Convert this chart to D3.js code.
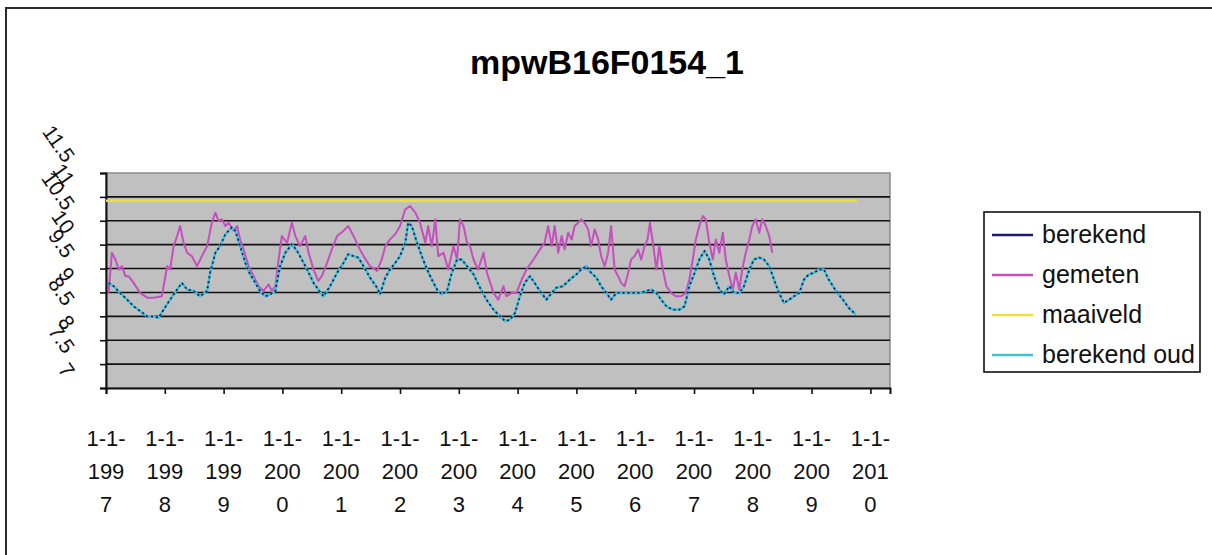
<!DOCTYPE html>
<html>
<head>
<meta charset="utf-8">
<script src="https://cdn.jsdelivr.net/npm/d3@7"></script>
<style>
  html, body { margin: 0; padding: 0; background: #ffffff; }
  svg { display: block; font-family: "Liberation Sans", Arial, sans-serif; }
</style>
</head>
<body>
<svg id="chart" width="1212" height="555"></svg>
<script>
// ---------------- DATA ----------------
const chartTitle = "mpwB16F0154_1";
const yTickValues = [7, 7.5, 8, 8.5, 9, 9.5, 10, 10.5, 11, 11.5];
const yTickLabels = ["7", "7.5", "8", "8.5", "9", "9.5", "10", "10.5", "11", "11.5"];
const xTickYears = [1997, 1998, 1999, 2000, 2001, 2002, 2003, 2004, 2005, 2006, 2007, 2008, 2009, 2010];
const xTickLabels = [
  ["1-1-", "199", "7"], ["1-1-", "199", "8"], ["1-1-", "199", "9"], ["1-1-", "200", "0"],
  ["1-1-", "200", "1"], ["1-1-", "200", "2"], ["1-1-", "200", "3"], ["1-1-", "200", "4"],
  ["1-1-", "200", "5"], ["1-1-", "200", "6"], ["1-1-", "200", "7"], ["1-1-", "200", "8"],
  ["1-1-", "200", "9"], ["1-1-", "201", "0"]
];
const seriesNames = ["berekend", "gemeten", "maaiveld", "berekend oud"];

// time in decimal years, value in m
const gemeten = [
  [1997.045, 8.99], [1997.10, 9.83], [1997.16, 9.69], [1997.215, 9.48], [1997.27, 9.55], [1997.33, 9.34],
  [1997.385, 9.34], [1997.47, 9.20], [1997.58, 8.99], [1997.70, 8.89], [1997.81, 8.89], [1997.95, 8.92],
  [1997.98, 9.13], [1998.04, 9.55], [1998.09, 9.48], [1998.15, 9.97], [1998.21, 10.18], [1998.26, 10.39],
  [1998.32, 10.04], [1998.38, 9.83], [1998.46, 9.76], [1998.55, 9.55], [1998.63, 9.76], [1998.72, 9.97],
  [1998.80, 10.46], [1998.86, 10.67], [1998.915, 10.50], [1998.97, 10.53], [1999.03, 10.39], [1999.085, 10.46],
  [1999.17, 10.29], [1999.23, 10.39], [1999.28, 10.11], [1999.34, 9.90], [1999.425, 9.55], [1999.51, 9.34],
  [1999.595, 9.13], [1999.68, 9.03], [1999.765, 9.17], [1999.82, 9.03], [1999.88, 9.13], [1999.935, 9.69],
  [1999.99, 10.18], [2000.08, 10.04], [2000.16, 10.46], [2000.22, 10.18], [2000.30, 9.97], [2000.39, 10.18],
  [2000.445, 9.83], [2000.53, 9.48], [2000.61, 9.24], [2000.67, 9.34], [2000.76, 9.62], [2000.84, 9.90],
  [2000.93, 10.18], [2001.04, 10.29], [2001.12, 10.39], [2001.21, 10.18], [2001.29, 9.97], [2001.38, 9.76],
  [2001.49, 9.55], [2001.61, 9.45], [2001.69, 9.69], [2001.75, 9.97], [2001.83, 10.11], [2001.92, 10.22],
  [2002.00, 10.39], [2002.09, 10.74], [2002.17, 10.81], [2002.26, 10.67], [2002.34, 10.46], [2002.43, 10.04],
  [2002.48, 10.39], [2002.54, 9.97], [2002.60, 10.53], [2002.65, 9.76], [2002.74, 9.83], [2002.82, 9.48],
  [2002.91, 9.97], [2002.97, 9.69], [2003.02, 10.53], [2003.08, 10.39], [2003.14, 10.04], [2003.19, 9.97],
  [2003.25, 9.69], [2003.33, 9.48], [2003.42, 9.83], [2003.48, 9.41], [2003.59, 8.99], [2003.67, 8.85],
  [2003.76, 9.13], [2003.81, 8.92], [2003.90, 8.99], [2003.98, 8.99], [2004.07, 9.27], [2004.15, 9.48],
  [2004.27, 9.69], [2004.38, 9.90], [2004.46, 10.04], [2004.52, 10.39], [2004.58, 9.97], [2004.63, 10.39],
  [2004.69, 9.83], [2004.75, 10.18], [2004.80, 9.90], [2004.86, 10.25], [2004.92, 10.11], [2004.97, 10.39],
  [2005.03, 10.46], [2005.08, 10.53], [2005.14, 10.46], [2005.20, 10.32], [2005.25, 9.97], [2005.31, 10.32],
  [2005.37, 10.11], [2005.42, 9.76], [2005.48, 9.55], [2005.54, 9.83], [2005.59, 10.39], [2005.65, 9.48],
  [2005.71, 9.34], [2005.76, 9.20], [2005.82, 9.13], [2005.88, 9.41], [2005.93, 9.69], [2005.99, 9.76],
  [2006.05, 9.90], [2006.10, 9.69], [2006.16, 9.97], [2006.21, 10.11], [2006.25, 10.46], [2006.30, 10.04],
  [2006.36, 9.48], [2006.41, 9.97], [2006.47, 9.48], [2006.53, 9.13], [2006.61, 8.99], [2006.69, 8.92],
  [2006.78, 8.92], [2006.86, 8.99], [2006.92, 9.27], [2006.98, 9.69], [2007.03, 10.11], [2007.09, 10.39],
  [2007.15, 10.60], [2007.20, 10.53], [2007.26, 10.04], [2007.32, 9.69], [2007.37, 10.11], [2007.43, 9.83],
  [2007.49, 10.25], [2007.54, 9.69], [2007.60, 9.34], [2007.66, 9.06], [2007.71, 9.41], [2007.77, 9.06],
  [2007.82, 9.48], [2007.88, 9.83], [2007.94, 10.11], [2007.99, 10.39], [2008.05, 10.53], [2008.11, 10.25],
  [2008.16, 10.53], [2008.22, 10.39], [2008.28, 10.18], [2008.33, 9.83]
];

const berekendOud = [
  [1997.045, 9.20], [1997.13, 9.13], [1997.24, 8.99], [1997.36, 8.85], [1997.47, 8.71], [1997.58, 8.61],
  [1997.70, 8.50], [1997.81, 8.50], [1997.895, 8.47], [1997.98, 8.64], [1998.09, 8.85], [1998.21, 9.06],
  [1998.29, 9.20], [1998.38, 9.06], [1998.49, 9.03], [1998.60, 8.92], [1998.72, 9.03], [1998.77, 9.41],
  [1998.86, 9.83], [1998.94, 9.97], [1999.03, 10.22], [1999.085, 10.29], [1999.14, 10.36], [1999.20, 10.29],
  [1999.28, 9.97], [1999.37, 9.62], [1999.45, 9.38], [1999.54, 9.20], [1999.62, 9.03], [1999.71, 8.92],
  [1999.79, 8.96], [1999.88, 9.03], [1999.96, 9.55], [2000.05, 9.83], [2000.16, 10.01], [2000.25, 9.87],
  [2000.33, 9.69], [2000.42, 9.48], [2000.53, 9.20], [2000.61, 9.06], [2000.70, 8.92], [2000.81, 9.13],
  [2000.93, 9.41], [2001.04, 9.62], [2001.12, 9.80], [2001.21, 9.76], [2001.29, 9.73], [2001.38, 9.55],
  [2001.49, 9.31], [2001.61, 9.10], [2001.66, 8.96], [2001.75, 9.31], [2001.83, 9.48], [2001.92, 9.62],
  [2002.00, 9.76], [2002.09, 10.04], [2002.14, 10.46], [2002.20, 10.39], [2002.29, 10.04], [2002.37, 9.76],
  [2002.46, 9.48], [2002.54, 9.27], [2002.63, 9.06], [2002.71, 8.96], [2002.80, 9.03], [2002.88, 9.41],
  [2002.97, 9.69], [2003.05, 9.69], [2003.14, 9.55], [2003.25, 9.38], [2003.36, 9.10], [2003.47, 8.85],
  [2003.59, 8.64], [2003.70, 8.50], [2003.79, 8.40], [2003.87, 8.43], [2003.955, 8.57], [2004.04, 8.92],
  [2004.12, 9.20], [2004.21, 9.34], [2004.29, 9.20], [2004.38, 9.03], [2004.49, 8.85], [2004.58, 8.99],
  [2004.66, 9.10], [2004.77, 9.13], [2004.89, 9.27], [2005.00, 9.38], [2005.08, 9.48], [2005.17, 9.55],
  [2005.25, 9.41], [2005.34, 9.31], [2005.42, 9.13], [2005.51, 8.99], [2005.59, 8.85], [2005.68, 8.99],
  [2005.79, 8.99], [2005.90, 8.99], [2005.99, 8.99], [2006.07, 8.99], [2006.19, 9.03], [2006.27, 9.06],
  [2006.36, 8.99], [2006.44, 8.85], [2006.53, 8.71], [2006.64, 8.64], [2006.75, 8.64], [2006.84, 8.71],
  [2006.92, 9.13], [2007.01, 9.41], [2007.09, 9.69], [2007.18, 9.87], [2007.26, 9.69], [2007.34, 9.34],
  [2007.43, 9.06], [2007.51, 8.96], [2007.60, 9.13], [2007.68, 8.99], [2007.77, 8.99], [2007.85, 9.13],
  [2007.94, 9.48], [2008.02, 9.69], [2008.11, 9.73], [2008.19, 9.69], [2008.28, 9.55], [2008.36, 9.27],
  [2008.445, 8.99], [2008.53, 8.78], [2008.62, 8.85], [2008.70, 8.92], [2008.79, 8.99], [2008.87, 9.27],
  [2008.955, 9.38], [2009.04, 9.41], [2009.12, 9.48], [2009.21, 9.48], [2009.29, 9.27], [2009.38, 9.10],
  [2009.46, 8.96], [2009.55, 8.82], [2009.63, 8.68], [2009.75, 8.54]
];

const berekend = [
  [1997.045, 9.20], [1997.13, 9.13], [1997.24, 8.99], [1997.36, 8.85], [1997.47, 8.71], [1997.58, 8.61],
  [1997.70, 8.50], [1997.81, 8.50], [1997.895, 8.47], [1997.98, 8.64], [1998.09, 8.85], [1998.21, 9.06],
  [1998.29, 9.20], [1998.38, 9.06], [1998.49, 9.03], [1998.60, 8.92], [1998.72, 9.03], [1998.77, 9.41],
  [1998.86, 9.83], [1998.94, 9.97], [1999.03, 10.22], [1999.085, 10.29], [1999.14, 10.36], [1999.20, 10.29],
  [1999.28, 9.97], [1999.37, 9.62], [1999.45, 9.38], [1999.54, 9.20], [1999.62, 9.03], [1999.71, 8.92],
  [1999.79, 8.96], [1999.88, 9.03], [1999.96, 9.55], [2000.05, 9.83], [2000.16, 10.01], [2000.25, 9.87],
  [2000.33, 9.69], [2000.42, 9.48], [2000.53, 9.20], [2000.61, 9.06], [2000.70, 8.92], [2000.81, 9.13],
  [2000.93, 9.41], [2001.04, 9.62], [2001.12, 9.80], [2001.21, 9.76], [2001.29, 9.73], [2001.38, 9.55],
  [2001.49, 9.31], [2001.61, 9.10], [2001.66, 8.96], [2001.75, 9.31], [2001.83, 9.48], [2001.92, 9.62],
  [2002.00, 9.76], [2002.09, 10.04], [2002.14, 10.46], [2002.20, 10.39], [2002.29, 10.04], [2002.37, 9.76],
  [2002.46, 9.48], [2002.54, 9.27], [2002.63, 9.06], [2002.71, 8.96], [2002.80, 9.03], [2002.88, 9.41],
  [2002.97, 9.69], [2003.05, 9.69], [2003.14, 9.55], [2003.25, 9.38], [2003.36, 9.10], [2003.47, 8.85],
  [2003.59, 8.64], [2003.70, 8.50], [2003.79, 8.40], [2003.87, 8.43], [2003.955, 8.57], [2004.04, 8.92],
  [2004.12, 9.20], [2004.21, 9.34], [2004.29, 9.20], [2004.38, 9.03], [2004.49, 8.85], [2004.58, 8.99],
  [2004.66, 9.10], [2004.77, 9.13], [2004.89, 9.27], [2005.00, 9.38], [2005.08, 9.48], [2005.17, 9.55],
  [2005.25, 9.41], [2005.34, 9.31], [2005.42, 9.13], [2005.51, 8.99], [2005.59, 8.85], [2005.68, 8.99],
  [2005.79, 8.99], [2005.90, 8.99], [2005.99, 8.99], [2006.07, 8.99], [2006.19, 9.03], [2006.27, 9.06],
  [2006.36, 8.99], [2006.44, 8.85], [2006.53, 8.71], [2006.64, 8.64], [2006.75, 8.64], [2006.84, 8.71],
  [2006.92, 9.13], [2007.01, 9.41], [2007.09, 9.69], [2007.18, 9.87], [2007.26, 9.69], [2007.34, 9.34],
  [2007.43, 9.06], [2007.51, 8.96], [2007.60, 9.13], [2007.68, 8.99], [2007.77, 8.99], [2007.85, 9.13],
  [2007.94, 9.48], [2008.02, 9.69], [2008.11, 9.73], [2008.19, 9.69], [2008.28, 9.55], [2008.36, 9.27],
  [2008.445, 8.99], [2008.53, 8.78], [2008.62, 8.85], [2008.70, 8.92], [2008.79, 8.99], [2008.87, 9.27],
  [2008.955, 9.38], [2009.04, 9.41], [2009.12, 9.48], [2009.21, 9.48], [2009.29, 9.27], [2009.38, 9.10],
  [2009.46, 8.96], [2009.55, 8.82], [2009.63, 8.68], [2009.75, 8.54]
];

const maaiveld = [[1997.0, 10.92], [2009.77, 10.92]];

const seriesColors = { "berekend": "#1a1a6e", "gemeten": "#c64fbf", "maaiveld": "#ece03a", "berekend oud": "#3ec3cf" };

// ---------------- LAYOUT ----------------
const svg = d3.select("#chart");
const plot = { left: 106, right: 890, top: 173, bottom: 388 };

const x = d3.scaleLinear().domain([1997, 2010.333]).range([plot.left, plot.right]);
const y = d3.scaleLinear().domain([7, 11.5]).range([plot.bottom, plot.top]);

// outer chart border
svg.append("rect").attr("x", 6).attr("y", 8).attr("width", 1300).attr("height", 700)
  .attr("fill", "#ffffff").attr("stroke", "#2b2b2b").attr("stroke-width", 2);

// title
svg.append("text").attr("x", 607).attr("y", 74).attr("text-anchor", "middle")
  .attr("font-size", 34).attr("font-weight", "bold").attr("fill", "#000")
  .text(chartTitle);

// plot background
svg.append("rect").attr("x", plot.left).attr("y", plot.top)
  .attr("width", plot.right - plot.left).attr("height", plot.bottom - plot.top)
  .attr("fill", "#c0c0c0").attr("stroke", "#8a8a8a").attr("stroke-width", 1.5);

// gridlines
svg.append("g").selectAll("line").data(yTickValues.filter(v => v > 7 && v < 11.5)).join("line")
  .attr("x1", plot.left).attr("x2", plot.right)
  .attr("y1", d => y(d)).attr("y2", d => y(d))
  .attr("stroke", "#111").attr("stroke-width", 1.6);

// y axis
const yAxis = d3.axisLeft(y).tickValues(yTickValues).tickSize(6).tickFormat("");
const yg = svg.append("g").attr("transform", `translate(${plot.left},0)`).call(yAxis);
yg.select(".domain").attr("stroke", "#111").attr("stroke-width", 2);
yg.selectAll(".tick line").attr("stroke", "#111").attr("stroke-width", 1.6);

// rotated y labels
svg.append("g").selectAll("text").data(yTickValues).join("text")
  .attr("transform", (d) => `translate(64,${y(d) - 9}) rotate(55)`)
  .attr("text-anchor", "end")
  .attr("font-size", 21).attr("fill", "#111")
  .text((d, i) => yTickLabels[i]);

// x axis
const xAxis = d3.axisBottom(x).tickValues(xTickYears).tickSize(6).tickFormat("");
const xg = svg.append("g").attr("transform", `translate(0,${plot.bottom})`).call(xAxis);
xg.select(".domain").attr("stroke", "#111").attr("stroke-width", 2);
xg.selectAll(".tick line").attr("stroke", "#111").attr("stroke-width", 1.6);

const xl = svg.append("g").selectAll("text").data(xTickYears).join("text")
  .attr("text-anchor", "middle").attr("font-size", 22).attr("fill", "#111")
  .attr("x", d => x(d));
xl.selectAll("tspan").data((d, i) => xTickLabels[i]).join("tspan")
  .attr("x", function () { return d3.select(this.parentNode).attr("x"); })
  .attr("y", (d, j) => 446 + j * 33)
  .text(d => d);

// lines
const line = d3.line().x(d => x(d[0])).y(d => y(d[1]));
const linesG = svg.append("g");
linesG.append("path").datum(maaiveld).attr("d", line).attr("fill", "none")
  .attr("stroke", seriesColors["maaiveld"]).attr("stroke-width", 2.5);
linesG.append("path").datum(gemeten).attr("d", line).attr("fill", "none")
  .attr("stroke", seriesColors["gemeten"]).attr("stroke-width", 2).attr("stroke-linejoin", "round");
linesG.append("path").datum(berekendOud).attr("d", line).attr("fill", "none")
  .attr("stroke", seriesColors["berekend oud"]).attr("stroke-width", 2.5).attr("stroke-linejoin", "round");
linesG.append("path").datum(berekend).attr("d", line).attr("fill", "none")
  .attr("stroke", seriesColors["berekend"]).attr("stroke-width", 1.8)
  .attr("stroke-dasharray", "2,3").attr("stroke-linejoin", "round");

// legend
const lg = svg.append("g");
lg.append("rect").attr("x", 984).attr("y", 212).attr("width", 216).attr("height", 160)
  .attr("fill", "#fff").attr("stroke", "#111").attr("stroke-width", 1.6);
const items = lg.selectAll("g.item").data(seriesNames).join("g").attr("class", "item")
  .attr("transform", (d, i) => `translate(0,${235 + i * 40})`);
items.append("line").attr("x1", 992).attr("x2", 1033).attr("y1", 0).attr("y2", 0)
  .attr("stroke", d => seriesColors[d]).attr("stroke-width", 2.5);
items.append("text").attr("x", 1042).attr("y", 8).attr("font-size", 25).attr("fill", "#111")
  .text(d => d);
</script>
</body>
</html>
